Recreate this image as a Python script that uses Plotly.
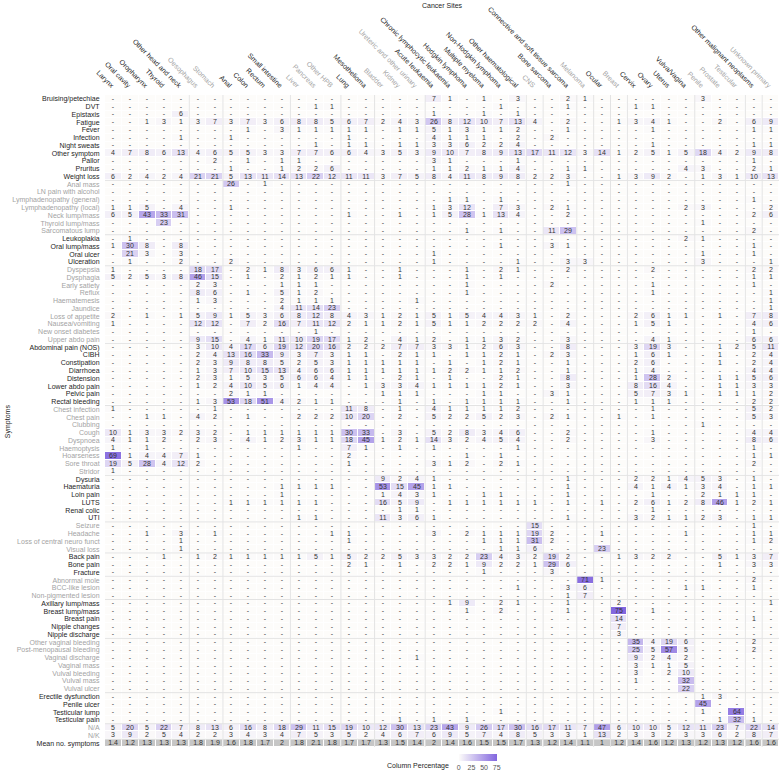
import plotly.graph_objects as go

# ---------------- Column (cancer site) groups ----------------
site_groups = [
    ["Larynx", "Oral cavity", "Oropharynx", "Thyroid", "Other head and neck"],
    ["Oesophagus", "Stomach"],
    ["Anal", "Colon", "Rectum", "Small intestine"],
    ["Liver", "Pancreas", "Other HPB"],
    ["Lung", "Mesothelioma"],
    ["Bladder", "Kidney", "Ureteric and other urinary"],
    ["Acute leukaemia", "Chronic lymphocytic leukaemia", "Hodgkin lymphoma",
     "Multiple myeloma", "Non-Hodgkin lymphoma", "Other haematological"],
    ["CNS"],
    ["Bone sarcoma", "Connective and soft tissue sarcoma"],
    ["Melanoma"],
    ["Ocular"],
    ["Breast"],
    ["Cervix", "Ovary", "Uterus", "Vulva/Vagina"],
    ["Penile", "Prostate", "Testicular"],
    ["Other malignant neoplasms"],
    ["Unknown primary"],
]

# ---------------- Symptom groups and column percentages ----------------
general_symptoms = ["Bruising/petechiae", "DVT", "Epistaxis", "Fatigue", "Fever", "Infection",
                    "Night sweats", "Other symptom", "Pallor", "Pruritus", "Weight loss"]
general_values = [
    [0,0,0,0,0,0,0,0,0,0, 0,0,0,0,0,0,0,0,0,7,1,0,1,0,3, 0,0,2,1,0,0,0,0,0,0,3,0,0,0,0],
    [0,0,0,0,0,0,0,0,0,0, 0,0,1,1,0,0,0,0,0,0,0,0,0,1,0, 0,0,1,0,0,0,1,1,0,0,0,0,0,0,0],
    [0,0,0,0,6,0,0,0,0,0, 0,0,0,0,0,0,0,0,0,1,0,0,1,0,1, 0,0,0,0,0,0,0,0,0,0,0,0,0,0,0],
    [0,0,1,3,1,3,7,3,7,3, 6,8,8,5,6,7,2,4,3,26,8,12,10,7,13, 4,0,2,0,0,1,3,4,1,0,0,2,0,6,9],
    [0,0,0,0,0,0,0,0,1,0, 3,1,1,1,1,1,0,1,1,5,1,3,1,1,2, 0,0,1,0,0,0,0,1,0,0,0,0,0,1,1],
    [0,0,0,0,1,0,0,1,0,0, 0,0,0,0,1,0,0,0,0,4,1,1,1,0,2, 0,2,0,0,0,0,0,0,0,0,0,0,0,0,0],
    [0,0,0,0,0,0,0,0,0,0, 0,0,1,0,1,1,0,1,1,3,3,6,2,2,4, 0,0,0,0,0,0,0,1,0,0,0,0,0,1,1],
    [4,7,8,6,13,4,6,5,5,3, 3,7,7,6,6,4,3,5,3,9,10,7,8,9,13, 17,11,12,3,14,1,2,5,1,5,18,4,2,9,8],
    [0,0,0,0,0,0,2,0,1,0, 1,1,0,0,0,0,0,0,0,3,1,0,0,0,1, 0,0,0,0,0,0,0,0,0,0,0,0,0,1,0],
    [0,0,0,0,0,0,0,1,0,0, 1,2,2,6,0,0,0,0,0,1,1,2,1,1,4, 0,0,1,1,0,0,0,0,0,4,3,0,0,2,1],
    [6,2,4,2,4,21,21,5,13,11, 14,13,22,12,11,11,3,7,5,8,4,11,8,9,8, 2,2,3,0,0,1,3,9,2,0,1,3,1,10,13],
]

lump_symptoms = ["Anal mass", "LN pain with alcohol", "Lymphadenopathy (general)",
                 "Lymphadenopathy (local)", "Neck lump/mass", "Thyroid lump/mass", "Sarcomatous lump"]
lump_values = [
    [0,0,0,0,0,0,0,26,0,1, 0,0,0,0,0,0,0,0,0,0,0,0,0,0,0, 0,0,1,0,0,0,0,0,0,0,0,0,0,0,0],
    [0,0,0,0,0,0,0,0,0,0, 0,0,0,0,0,0,0,0,0,0,0,0,0,0,0, 0,0,0,0,0,0,0,0,0,0,0,0,0,0,0],
    [0,0,0,0,0,0,0,0,0,0, 0,0,0,0,0,0,0,0,0,0,1,1,0,1,0, 0,0,0,0,0,0,0,0,0,0,0,0,0,1,0],
    [1,1,5,0,4,0,0,1,0,0, 0,0,0,0,0,0,0,0,0,1,3,12,0,7,3, 0,2,1,0,0,0,0,0,0,2,3,0,0,0,2],
    [6,5,43,33,31,0,0,0,0,0, 0,0,0,0,1,0,0,1,0,1,5,28,1,13,4, 0,0,2,0,0,0,0,0,0,0,0,0,0,2,6],
    [0,0,0,23,0,0,0,0,0,0, 0,0,0,0,0,0,0,0,0,0,0,0,0,0,0, 0,0,0,0,0,0,0,0,0,0,1,0,0,0,0],
    [0,0,0,0,0,0,0,0,0,0, 0,0,0,0,0,0,0,0,0,0,0,1,0,1,0, 0,11,29,0,0,0,0,0,0,0,0,0,0,2,0],
]

oral_symptoms = ["Leukoplakia", "Oral lump/mass", "Oral ulcer", "Ulceration"]
oral_values = [
    [0,1,0,0,0,0,0,0,0,0, 0,0,0,0,0,0,0,0,0,0,0,0,0,0,0, 0,0,0,0,0,0,0,0,0,2,1,0,0,0,0],
    [1,30,8,0,8,0,0,0,0,0, 0,0,0,0,0,0,0,0,0,0,0,0,0,1,0, 0,3,1,0,0,0,0,0,0,0,0,0,0,1,0],
    [0,21,3,0,3,0,0,0,0,0, 0,0,0,0,0,0,0,0,0,1,0,0,0,0,0, 0,0,0,0,0,0,0,0,0,0,1,0,0,1,0],
    [0,1,0,0,2,0,0,2,0,0, 0,0,0,0,0,0,0,0,0,1,0,0,0,0,1, 0,0,3,3,0,0,0,0,0,0,3,0,0,0,1],
]

upper_gi_symptoms = ["Dyspepsia", "Dysphagia", "Early satiety", "Reflux", "Haematemesis", "Jaundice",
                     "Loss of appetite", "Nausea/vomiting", "New onset diabetes", "Upper abdo pain"]
upper_gi_values = [
    [1,0,0,0,0,18,17,0,2,1, 8,3,6,6,1,0,0,1,0,0,0,1,0,2,1, 0,0,2,0,0,0,0,2,0,0,0,0,0,2,2],
    [5,2,5,3,8,46,15,0,1,0, 2,1,2,1,1,0,0,1,0,0,0,1,0,1,0, 0,0,0,0,0,0,0,0,0,0,0,0,0,1,1],
    [0,0,0,0,0,2,3,0,0,0, 1,1,1,0,0,0,0,0,0,0,0,1,0,0,0, 0,2,0,0,0,0,0,1,0,0,0,0,0,1,0],
    [0,0,0,0,0,8,6,0,1,0, 5,1,2,0,0,0,0,0,0,0,0,1,0,0,0, 0,0,0,0,0,0,0,1,0,0,0,0,0,0,1],
    [0,0,0,0,0,1,3,0,0,0, 2,1,1,1,0,0,0,0,1,0,0,0,0,0,0, 0,0,0,0,0,0,0,0,0,0,0,0,0,0,1],
    [0,0,0,0,0,0,0,0,0,0, 4,11,14,23,0,0,0,0,0,0,0,0,0,0,0, 0,0,0,0,0,0,0,0,0,0,0,0,0,0,1],
    [2,0,1,0,1,5,9,1,5,3, 6,8,12,8,4,3,1,2,1,5,1,5,4,4,3, 1,0,2,0,0,0,2,6,1,1,0,1,0,7,8],
    [1,0,0,0,0,12,12,0,7,2, 16,7,11,12,2,1,1,2,1,5,1,1,2,2,2, 2,0,4,0,0,0,1,5,1,0,0,0,0,4,6],
    [0,0,0,0,0,0,0,0,0,0, 0,0,1,0,0,0,0,0,0,0,0,0,0,0,0, 0,0,0,0,0,0,0,0,0,0,0,0,0,1,0],
    [0,0,0,0,0,9,15,0,4,1, 11,10,19,17,1,2,0,4,1,2,0,1,1,3,2, 0,0,3,0,0,0,0,4,1,0,0,0,0,6,6],
]

lower_gi_symptoms = ["Abdominal pain (NOS)", "CIBH", "Constipation", "Diarrhoea", "Distension",
                     "Lower abdo pain", "Pelvic pain", "Rectal bleeding"]
lower_gi_values = [
    [0,0,0,0,0,3,10,4,17,6, 19,12,20,16,2,2,2,7,7,3,3,1,2,6,3, 0,0,8,0,0,0,3,19,3,0,0,1,2,5,11],
    [0,0,0,0,0,2,4,13,16,33, 9,3,7,3,1,1,0,2,1,1,0,1,1,2,1, 0,2,3,0,0,0,1,6,1,0,0,1,0,2,4],
    [0,0,0,0,0,2,3,9,8,8, 5,2,5,3,1,1,1,1,1,0,1,0,1,2,1, 0,0,1,0,0,0,2,6,0,0,0,1,0,2,4],
    [0,0,0,0,0,1,3,7,10,15, 13,4,6,6,1,1,1,1,1,1,2,2,1,1,2, 0,0,1,0,0,0,1,4,0,0,0,0,0,4,4],
    [0,0,0,0,0,2,3,1,5,3, 5,6,6,4,1,1,0,2,1,0,1,0,0,2,1, 0,0,8,0,0,0,1,28,2,0,0,1,1,5,6],
    [0,0,0,0,0,1,2,4,10,5, 6,1,4,4,0,1,3,3,4,1,1,1,1,2,1, 0,0,3,0,0,0,8,16,4,0,0,1,1,3,3],
    [0,0,0,0,0,0,0,2,1,1, 0,0,0,0,0,0,1,1,1,0,0,0,1,1,0, 0,3,1,0,0,0,5,7,3,1,0,1,1,1,2],
    [0,0,0,0,0,1,3,53,18,51, 4,2,1,1,0,0,0,1,0,1,0,1,1,1,1, 0,0,1,0,0,0,1,1,1,0,0,0,0,2,2],
]

resp_symptoms = ["Chest infection", "Chest pain", "Clubbing", "Cough", "Dyspnoea", "Haemoptysis",
                 "Hoarseness", "Sore throat", "Stridor"]
resp_values = [
    [1,0,0,0,0,0,1,0,0,0, 0,0,0,0,11,8,0,1,0,4,1,1,1,1,2, 0,0,0,0,0,0,0,1,0,0,0,0,0,5,2],
    [0,0,1,1,0,4,2,0,1,0, 0,2,2,2,10,20,0,2,0,5,2,2,5,2,3, 0,2,1,0,0,1,0,1,0,0,0,0,0,5,3],
    [0,0,0,0,0,0,0,0,0,0, 0,0,0,0,0,0,0,0,0,0,0,0,0,0,0, 0,0,0,0,0,0,0,0,0,0,1,0,0,0,0],
    [10,1,3,3,2,3,2,0,1,1, 1,1,1,1,30,33,0,3,0,5,2,8,3,4,6, 0,0,2,0,0,0,0,1,0,0,0,0,0,4,4],
    [4,1,1,2,0,2,3,0,4,1, 2,3,1,1,18,45,1,2,1,14,3,2,4,5,4, 0,0,2,0,0,0,0,3,0,0,0,0,0,8,6],
    [1,0,1,0,0,0,0,0,0,0, 0,1,0,0,7,1,0,1,0,1,0,0,0,0,1, 0,0,0,0,0,0,0,0,0,0,0,0,0,1,0],
    [69,1,4,4,7,1,0,0,0,0, 0,0,0,0,2,0,0,0,0,0,0,1,0,1,0, 0,0,0,0,0,0,0,0,0,0,0,0,0,1,1],
    [19,5,28,4,12,2,0,0,0,0, 0,0,0,0,1,0,0,0,0,3,1,2,0,2,1, 0,0,0,0,0,0,0,0,0,0,0,0,0,2,0],
    [1,0,0,0,0,0,0,0,0,0, 0,0,0,0,0,0,0,0,0,0,0,0,0,0,0, 0,0,0,0,0,0,0,0,0,0,0,0,0,0,0],
]

uro_symptoms = ["Dysuria", "Haematuria", "Loin pain", "LUTS", "Renal colic", "UTI"]
uro_values = [
    [0,0,0,0,0,0,0,0,0,0, 0,0,0,0,0,0,9,2,4,1,0,0,0,0,0, 0,0,1,0,0,0,2,2,1,4,5,3,0,1,0],
    [0,0,0,0,0,0,0,0,0,0, 1,1,1,1,0,0,53,15,45,1,1,0,0,0,0, 0,0,1,0,0,0,4,1,4,1,3,4,0,1,1],
    [0,0,0,0,0,0,0,0,0,0, 1,0,0,0,0,0,1,4,3,1,0,0,1,1,0, 0,0,1,0,0,0,0,1,0,0,2,1,1,1,0],
    [0,0,0,0,0,0,0,1,1,1, 1,1,1,0,0,0,16,5,9,0,1,1,1,1,1, 1,0,1,0,1,0,2,6,1,2,8,46,1,2,1],
    [0,0,0,0,0,0,0,0,0,0, 0,0,0,0,0,0,0,1,1,0,0,0,0,0,0, 0,0,0,0,0,0,0,1,0,0,0,0,0,0,0],
    [0,0,0,0,0,0,0,0,0,0, 0,1,1,0,0,0,11,3,6,1,0,0,0,0,0, 0,0,1,0,0,0,3,2,1,1,2,3,0,1,1],
]

neuro_symptoms = ["Seizure", "Headache", "Loss of central neuro funct", "Visual loss"]
neuro_values = [
    [0,0,0,0,0,0,0,0,0,0, 0,0,0,0,0,0,0,0,0,0,0,0,0,0,0, 15,0,0,0,0,0,0,0,0,0,0,0,0,1,0],
    [0,0,1,0,3,0,1,0,0,0, 0,0,0,1,1,0,0,0,0,3,0,2,1,1,1, 19,2,0,0,1,0,0,0,0,1,0,0,0,1,1],
    [0,0,0,0,1,0,0,0,0,0, 0,0,0,0,1,0,0,0,0,0,0,0,1,1,1, 31,2,0,0,0,0,0,0,0,0,0,0,0,1,2],
    [0,0,0,0,1,0,0,0,0,0, 0,0,0,0,0,0,0,0,0,0,0,0,0,1,1, 6,0,0,0,23,0,0,0,0,0,0,0,0,0,0],
]

msk_symptoms = ["Back pain", "Bone pain", "Fracture"]
msk_values = [
    [0,0,0,1,0,1,2,1,1,1, 1,1,5,1,5,2,2,5,3,3,2,2,23,4,3, 2,19,2,0,0,1,3,2,2,0,0,5,1,3,7],
    [0,0,0,0,0,0,0,0,0,0, 0,0,0,0,2,1,0,1,0,2,2,1,9,2,2, 1,29,6,0,0,0,0,0,0,0,0,1,0,3,3],
    [0,0,0,0,0,0,0,0,0,0, 0,0,0,0,0,0,0,0,0,0,0,0,1,0,0, 0,3,0,0,0,0,0,0,0,0,0,0,0,0,0],
]

skin_symptoms = ["Abnormal mole", "BCC-like lesion", "Non-pigmented lesion"]
skin_values = [
    [0,0,0,0,0,0,0,0,0,0, 0,0,0,0,0,0,0,0,0,0,0,0,0,0,0, 0,0,0,71,1,0,0,0,0,0,0,0,0,2,0],
    [0,0,0,0,0,0,0,0,0,0, 0,0,0,0,0,0,0,0,0,0,0,0,0,0,1, 0,0,3,6,0,0,0,0,0,1,1,0,0,1,0],
    [0,0,0,0,0,0,0,0,0,0, 0,0,0,0,0,0,0,0,0,0,0,0,0,0,0, 0,0,1,7,0,0,0,0,0,0,0,0,0,0,0],
]

breast_symptoms = ["Axillary lump/mass", "Breast lump/mass", "Breast pain", "Nipple changes", "Nipple discharge"]
breast_values = [
    [0,0,0,0,0,0,0,0,0,0, 0,0,0,0,0,0,0,0,0,0,1,9,0,2,1, 0,0,1,0,0,2,0,0,0,0,0,0,0,0,1],
    [0,0,0,0,0,0,0,0,0,0, 0,0,0,0,0,0,0,0,0,0,0,1,0,2,0, 0,0,1,0,0,75,0,1,0,0,0,0,0,0,0],
    [0,0,0,0,0,0,0,0,0,0, 0,0,0,0,0,0,0,0,0,0,0,0,0,0,0, 0,0,0,0,0,14,0,0,0,0,0,0,0,1,0],
    [0,0,0,0,0,0,0,0,0,0, 0,0,0,0,0,0,0,0,0,0,0,0,0,0,0, 0,0,0,0,0,7,0,0,0,0,0,0,0,0,0],
    [0,0,0,0,0,0,0,0,0,0, 0,0,0,0,0,0,0,0,0,0,0,0,0,0,0, 0,0,0,0,0,3,0,0,0,0,0,0,0,0,0],
]

gynae_symptoms = ["Other vaginal bleeding", "Post-menopausal bleeding", "Vaginal discharge", "Vaginal mass",
                  "Vulval bleeding", "Vulval mass", "Vulval ulcer"]
gynae_values = [
    [0,0,0,0,0,0,0,0,0,0, 0,0,0,0,0,0,0,0,0,0,0,0,0,0,0, 0,0,0,0,0,0,35,4,19,6,0,0,0,2,0],
    [0,0,0,0,0,0,0,0,0,0, 0,0,0,0,0,0,0,0,0,0,0,0,0,0,0, 0,0,0,0,0,0,25,5,57,5,0,0,0,2,0],
    [0,0,0,0,0,0,0,0,0,0, 0,0,0,0,0,0,0,0,1,0,0,0,0,0,0, 0,0,0,0,0,0,9,2,4,2,0,0,0,0,0],
    [0,0,0,0,0,0,0,0,0,0, 0,0,0,0,0,0,0,0,0,0,0,0,0,0,0, 0,0,0,0,0,0,3,1,1,5,0,0,0,0,0],
    [0,0,0,0,0,0,0,0,0,0, 0,0,0,0,0,0,0,0,0,0,0,0,0,0,0, 0,0,0,0,0,0,3,0,2,10,0,0,0,0,0],
    [0,0,0,0,0,0,0,0,0,0, 0,0,0,0,0,0,0,0,0,0,0,0,0,0,0, 0,0,0,0,0,0,1,0,0,32,0,0,0,0,0],
    [0,0,0,0,0,0,0,0,0,0, 0,0,0,0,0,0,0,0,0,0,0,0,0,0,0, 0,0,0,0,0,0,0,0,0,22,0,0,0,0,0],
]

male_symptoms = ["Erectile dysfunction", "Penile ulcer", "Testicular lump", "Testicular pain"]
male_values = [
    [0,0,0,0,0,0,0,0,0,0, 0,0,0,0,0,0,0,0,0,0,0,0,0,0,0, 0,0,0,0,0,0,0,0,0,0,1,3,0,0,0],
    [0,0,0,0,0,0,0,0,0,0, 0,0,0,0,0,0,0,0,0,0,0,0,0,0,0, 0,0,0,0,0,0,0,0,0,0,45,0,0,0,0],
    [0,0,0,0,0,0,0,0,0,0, 0,0,0,0,0,0,0,0,0,0,0,0,0,1,0, 0,0,0,0,0,0,0,0,0,0,1,0,64,0,0],
    [0,0,0,0,0,0,0,0,0,0, 0,0,0,0,0,0,0,1,0,1,0,1,0,0,0, 0,0,0,0,0,0,0,0,0,0,0,1,32,1,0],
]

missing_symptoms = ["N/A", "N/K"]
missing_values = [
    [5,20,5,22,7,8,13,6,16,8, 18,29,11,15,19,10,12,30,13,23,43,9,26,17,30, 16,17,11,7,47,6,10,10,5,12,11,23,7,22,14],
    [3,9,2,5,4,2,2,3,4,3, 4,7,5,3,5,2,4,6,7,6,9,5,7,4,8, 5,3,3,1,13,2,3,3,2,3,3,6,2,8,7],
]

mean_label = "Mean no. symptoms"
mean_symptoms = [1.4,1.2,1.3,1.3,1.3,1.8,1.9,1.6,1.8,1.7, 2,1.8,2.1,1.8,1.7,1.7,1.3,1.5,1.4,2,1.4,1.6,1.5,1.5,1.7,
                 1.3,1.2,1.4,1.1,1,1.2,1.4,1.6,1.2,1.3,1.2,1.3,1.2,1.6,1.6]

symptom_groups = [
    (general_symptoms, general_values), (lump_symptoms, lump_values), (oral_symptoms, oral_values),
    (upper_gi_symptoms, upper_gi_values), (lower_gi_symptoms, lower_gi_values), (resp_symptoms, resp_values),
    (uro_symptoms, uro_values), (neuro_symptoms, neuro_values), (msk_symptoms, msk_values),
    (skin_symptoms, skin_values), (breast_symptoms, breast_values), (gynae_symptoms, gynae_values),
    (male_symptoms, male_values), (missing_symptoms, missing_values),
]

# ---------------- Build matrices ----------------
BLACK = "#1e1e1e"
GRAY = "#a3a3a3"
FONT = "Liberation Sans, Arial, sans-serif"

sites, site_colors, site_breaks = [], [], []
for gi, g in enumerate(site_groups):
    for s in g:
        sites.append(s)
        site_colors.append(BLACK if gi % 2 == 0 else GRAY)
    site_breaks.append(len(sites))
ncol = len(sites)

row_labels, row_colors, z, txt, row_breaks = [], [], [], [], []
for gi, (labels, vals) in enumerate(symptom_groups):
    for lab, row in zip(labels, vals):
        row_labels.append(lab)
        row_colors.append(BLACK if gi % 2 == 0 else GRAY)
        z.append(row)
        txt.append(["-" if v == 0 else str(v) for v in row])
    row_breaks.append(len(row_labels))
row_labels.append(mean_label)
row_colors.append(BLACK)
nrow = len(row_labels)
z.append([None] * ncol)
txt.append([""] * ncol)

xs = list(range(ncol))
ys = list(range(nrow))

fig = go.Figure()
fig.add_trace(go.Heatmap(
    x=xs, y=ys, z=z, text=txt, texttemplate="%{text}",
    textfont=dict(size=7, color="#333333", family=FONT),
    colorscale=[[0, "#fdfcfa"], [1, "#8266df"]], zmin=0, zmax=75,
    xgap=1, ygap=1, hoverinfo="skip",
    colorbar=dict(orientation="h", x=0.553, xanchor="center", y=-0.021, yanchor="middle",
                  len=38, lenmode="pixels", thickness=7, outlinewidth=0, xpad=0, ypad=0,
                  tickvals=[0, 25, 50, 75], ticks="", tickfont=dict(size=7, color="#555555", family=FONT)),
))
mean_z = [[None] * ncol for _ in range(nrow - 1)] + [[1] * ncol]
mean_t = [[""] * ncol for _ in range(nrow - 1)] + [[str(v) for v in mean_symptoms]]
fig.add_trace(go.Heatmap(
    x=xs, y=ys, z=mean_z, text=mean_t, texttemplate="%{text}",
    textfont=dict(size=7, color="#333333", family=FONT),
    colorscale=[[0, "#c6c6c6"], [1, "#c6c6c6"]], showscale=False,
    xgap=1, ygap=1, hoverinfo="skip",
))

shapes = []
for b in site_breaks[:-1]:
    shapes.append(dict(type="line", xref="x", yref="y", x0=b - 0.5, x1=b - 0.5, y0=-0.5, y1=nrow - 0.5,
                       line=dict(color="#e3e3e3", width=1), layer="above"))
for b in row_breaks:
    shapes.append(dict(type="line", xref="x", yref="y", x0=-0.5, x1=ncol - 0.5, y0=b - 0.5, y1=b - 0.5,
                       line=dict(color="#e3e3e3", width=1), layer="above"))

fig.update_layout(
    width=780, height=776,
    margin=dict(l=105, r=1, t=95, b=29),
    paper_bgcolor="white", plot_bgcolor="white",
    font=dict(family=FONT, size=7, color=BLACK),
    shapes=shapes,
    xaxis=dict(side="top", tickmode="array", tickvals=xs,
               ticktext=[f"<span style='color:{c}'>{s}</span>" for s, c in zip(sites, site_colors)],
               tickangle=45, range=[-0.5, ncol - 0.5], showgrid=False, zeroline=False,
               ticks="outside", ticklen=2, tickcolor="rgba(0,0,0,0)", tickfont=dict(size=7, family=FONT)),
    yaxis=dict(tickmode="array", tickvals=ys,
               ticktext=[f"<span style='color:{c}'>{s}</span>" for s, c in zip(row_labels, row_colors)],
               range=[nrow - 0.5, -0.5], showgrid=False, zeroline=False,
               ticks="outside", ticklen=3, tickcolor="rgba(0,0,0,0)", tickfont=dict(size=7, family=FONT)),
    annotations=[
        dict(text="Cancer Sites", xref="paper", yref="paper", x=0.5, y=1.137, showarrow=False,
             xanchor="center", yanchor="middle", font=dict(size=7, color=BLACK, family=FONT)),
        dict(text="Symptoms", xref="paper", yref="paper", x=-0.1437, y=0.5, showarrow=False,
             textangle=-90, xanchor="center", yanchor="middle", font=dict(size=7, color=BLACK, family=FONT)),
        dict(text="Column Percentage", xref="paper", yref="paper", x=0.465, y=-0.029, showarrow=False,
             xanchor="center", yanchor="middle", font=dict(size=7, color=BLACK, family=FONT)),
    ],
)

fig.write_html("out.html", config={"displayModeBar": False},
               post_script="document.body.style.margin='0';document.body.style.overflow='hidden';")
